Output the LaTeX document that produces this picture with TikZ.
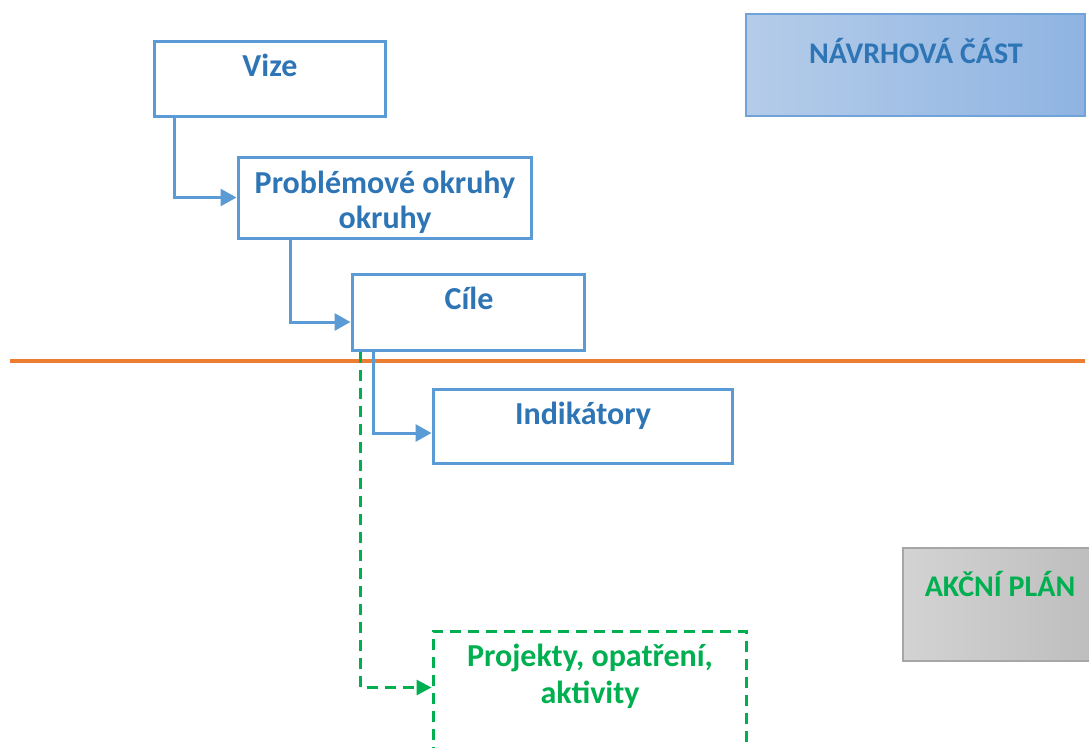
\documentclass[tikz,border=0pt]{standalone}
\usepackage{fontspec}
\setmainfont{Carlito}
\usetikzlibrary{arrows.meta}
\definecolor{boxblue}{HTML}{5B9BD5}
\definecolor{txtblue}{HTML}{2E75B6}
\definecolor{grn}{HTML}{00B050}
\definecolor{orng}{HTML}{ED7D31}
\definecolor{navL}{HTML}{B5CCE9}
\definecolor{navR}{HTML}{8FB4E2}
\definecolor{navB}{HTML}{6FA3DA}
\definecolor{grayL}{HTML}{D3D3D3}
\definecolor{grayR}{HTML}{BEBEBE}
\definecolor{grayB}{HTML}{A6A6A6}
\tikzset{
  bluebox/.style={draw=boxblue, line width=3pt, fill=white, rectangle, inner sep=0pt},
  greenbox/.style={draw=grn, line width=3pt, dash pattern=on 11pt off 7pt, rectangle, inner sep=0pt},
  maintxt/.style={anchor=base, inner sep=0pt, font=\fontsize{32}{36}\selectfont\bfseries, text=txtblue},
  greentxt/.style={maintxt, text=grn},
  labtxt/.style={anchor=base, inner sep=0pt, font=\fontsize{30}{34}\selectfont\bfseries},
  arr/.style={draw=boxblue, line width=3pt, -{Triangle[length=16pt,width=17pt]}},
  garr/.style={draw=grn, line width=3pt, dash pattern=on 11pt off 7pt, -{Triangle[length=15pt,width=15pt]}},
}
\begin{document}
\begin{tikzpicture}[x=1pt,y=-1pt]
\useasboundingbox (0,0) rectangle (1089,747);
% legend boxes
\node[rectangle, draw=navB, line width=1.8pt, left color=navL, right color=navR, minimum width=339pt, minimum height=102pt, inner sep=0pt] (navrh) at (915.5,65) {};
\node[labtxt, text=txtblue] (navrhT) at (916,63) {NÁVRHOVÁ ČÁST};
\node[rectangle, draw=grayB, line width=1.8pt, left color=grayL, right color=grayR, minimum width=190pt, minimum height=113pt, inner sep=0pt] (akcni) at (998,604.5) {};
\node[labtxt, text=grn] (akcniT) at (1000,596) {AKČNÍ PLÁN};
% orange separator
\coordinate (sepL) at (10,361);
\coordinate (sepR) at (1085,361);
\draw[orng, line width=3.2pt] (sepL) -- (sepR);
% boxes
\node[bluebox, minimum width=231pt, minimum height=75pt] (vize) at (269.5,78.5) {};
\node[bluebox, minimum width=293pt, minimum height=81pt] (prob) at (384.5,197.5) {};
\node[bluebox, minimum width=232pt, minimum height=76pt] (cile) at (468,312) {};
\node[bluebox, minimum width=299pt, minimum height=74pt] (indik) at (582.5,426) {};
\node[greenbox, minimum width=313pt, minimum height=140pt] (proj) at (589.5,701) {};
% texts
\node[maintxt] (vizeT) at (270,76) {Vize};
\node[maintxt] (probT1) at (385,193) {Problémové okruhy};
\node[maintxt] (probT2) at (385,228) {okruhy};
\node[maintxt] (cileT) at (469,309) {Cíle};
\node[maintxt] (indikT) at (583,424) {Indikátory};
\node[greentxt] (projT1) at (590,666) {Projekty, opatření,};
\node[greentxt] (projT2) at (590,703) {aktivity};
% connectors
\draw[arr] ([xshift=22pt]vize.south west) |- (prob.west);
\draw[arr] ([xshift=54pt]prob.south west) |- ([yshift=-10pt]cile.west);
\draw[arr] ([xshift=23pt]cile.south west) |- ([yshift=-7pt]indik.west);
\draw[garr] ([xshift=10pt]cile.south west) |- ([yshift=-58pt]proj.north west);
\end{tikzpicture}
\end{document}
